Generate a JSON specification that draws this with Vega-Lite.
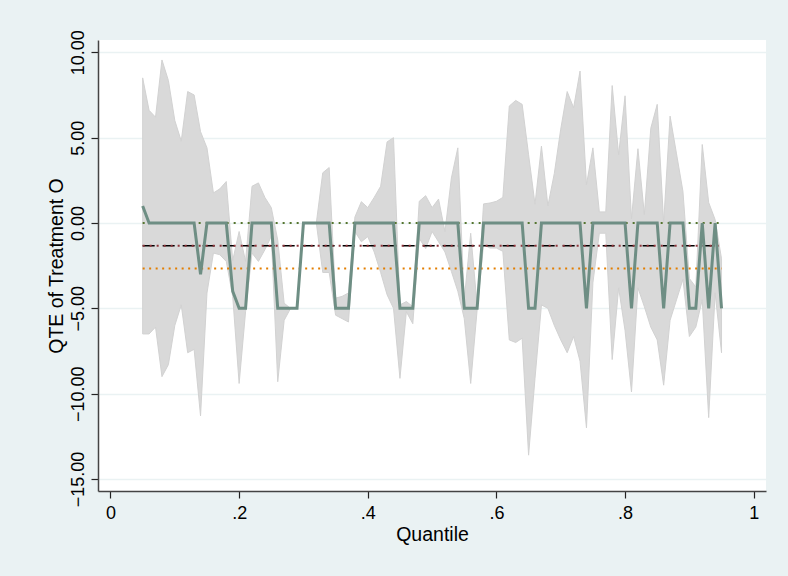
{
  "$schema": "https://vega.github.io/schema/vega-lite/v6.json",
  "autosize": {"type": "none"},
  "padding": {"left": 98, "top": 40, "right": 22, "bottom": 85},
  "width": 668,
  "height": 451,
  "background": "#EAF2F3",
  "config": {
    "view": {"fill": "white", "stroke": null},
    "font": "Liberation Sans",
    "axis": {
      "labelFont": "Liberation Sans",
      "titleFont": "Liberation Sans",
      "labelColor": "black",
      "titleColor": "black",
      "titleFontWeight": "normal",
      "domainColor": "#444444",
      "domainWidth": 1.5,
      "tickColor": "#222222",
      "tickWidth": 1.2,
      "tickSize": 7
    }
  },
  "datasets": {
    "ci": [
      {"q": 0.05, "qte": 1, "ub": 8.5, "lb": -6.5},
      {"q": 0.06, "qte": 0, "ub": 6.6, "lb": -6.5},
      {"q": 0.07, "qte": 0, "ub": 6.2, "lb": -6.1},
      {"q": 0.08, "qte": 0, "ub": 9.55, "lb": -9.0},
      {"q": 0.09, "qte": 0, "ub": 8.35, "lb": -8.3},
      {"q": 0.10, "qte": 0, "ub": 6.0, "lb": -6.0},
      {"q": 0.11, "qte": 0, "ub": 4.8, "lb": -4.8},
      {"q": 0.12, "qte": 0, "ub": 7.7, "lb": -7.6},
      {"q": 0.13, "qte": 0, "ub": 7.5, "lb": -7.4},
      {"q": 0.14, "qte": -3, "ub": 5.35, "lb": -11.3},
      {"q": 0.15, "qte": 0, "ub": 4.4, "lb": -4.1},
      {"q": 0.16, "qte": 0, "ub": 1.76, "lb": -1.76},
      {"q": 0.17, "qte": 0, "ub": 2.0, "lb": -1.86},
      {"q": 0.18, "qte": 0, "ub": 2.43, "lb": -2.25},
      {"q": 0.19, "qte": -4, "ub": -2.2, "lb": -4.3},
      {"q": 0.20, "qte": -5, "ub": -0.5, "lb": -9.4},
      {"q": 0.21, "qte": -5, "ub": -2.25, "lb": -5.2},
      {"q": 0.22, "qte": 0, "ub": 2.15, "lb": -1.76},
      {"q": 0.23, "qte": 0, "ub": 2.35, "lb": -2.25},
      {"q": 0.24, "qte": 0, "ub": 1.5, "lb": -1.57},
      {"q": 0.25, "qte": 0, "ub": 0.9, "lb": -0.78},
      {"q": 0.26, "qte": -5, "ub": -1.0, "lb": -9.3},
      {"q": 0.27, "qte": -5, "ub": -4.7, "lb": -5.7},
      {"q": 0.28, "qte": -5, "ub": -5, "lb": -5},
      {"q": 0.29, "qte": -5, "ub": -5, "lb": -5},
      {"q": 0.30, "qte": 0, "ub": 0, "lb": 0},
      {"q": 0.31, "qte": 0, "ub": 0, "lb": 0},
      {"q": 0.32, "qte": 0, "ub": 0, "lb": 0},
      {"q": 0.33, "qte": 0, "ub": 2.94, "lb": -2.9},
      {"q": 0.34, "qte": 0, "ub": 3.25, "lb": -2.9},
      {"q": 0.35, "qte": -5, "ub": -4.4, "lb": -5.4},
      {"q": 0.36, "qte": -5, "ub": -4.3, "lb": -5.6},
      {"q": 0.37, "qte": -5, "ub": -4.1, "lb": -5.8},
      {"q": 0.38, "qte": 0, "ub": 0.35, "lb": -0.5},
      {"q": 0.39, "qte": 0, "ub": 1.25, "lb": -1.1},
      {"q": 0.40, "qte": 0, "ub": 0.9, "lb": -0.8},
      {"q": 0.41, "qte": 0, "ub": 1.5, "lb": -1.7},
      {"q": 0.42, "qte": 0, "ub": 2.15, "lb": -2.9},
      {"q": 0.43, "qte": 0, "ub": 4.75, "lb": -4.2},
      {"q": 0.44, "qte": 0, "ub": 5.0, "lb": -5.0},
      {"q": 0.45, "qte": -5, "ub": -4.8, "lb": -9.1},
      {"q": 0.46, "qte": -5, "ub": -4.6, "lb": -5.2},
      {"q": 0.47, "qte": -5, "ub": -4.9, "lb": -5.9},
      {"q": 0.48, "qte": 0, "ub": 1.27, "lb": -0.9},
      {"q": 0.49, "qte": 0, "ub": 1.6, "lb": -1.5},
      {"q": 0.50, "qte": 0, "ub": 0.9, "lb": -0.5},
      {"q": 0.51, "qte": 0, "ub": 1.4, "lb": -1.1},
      {"q": 0.52, "qte": 0, "ub": -0.5, "lb": -1.7},
      {"q": 0.53, "qte": 0, "ub": 2.64, "lb": -2.84},
      {"q": 0.54, "qte": 0, "ub": 4.4, "lb": -4.0},
      {"q": 0.55, "qte": -5, "ub": -4.5, "lb": -5.6},
      {"q": 0.56, "qte": -5, "ub": -0.6, "lb": -9.4},
      {"q": 0.57, "qte": -5, "ub": -4.8, "lb": -5.1},
      {"q": 0.58, "qte": 0, "ub": 1.12, "lb": -1.27},
      {"q": 0.59, "qte": 0, "ub": 1.17, "lb": -1.47},
      {"q": 0.60, "qte": 0, "ub": 1.27, "lb": -1.47},
      {"q": 0.61, "qte": 0, "ub": 1.5, "lb": -1.66},
      {"q": 0.62, "qte": 0, "ub": 6.85, "lb": -6.85},
      {"q": 0.63, "qte": 0, "ub": 7.18, "lb": -7.0},
      {"q": 0.64, "qte": 0, "ub": 6.95, "lb": -6.75},
      {"q": 0.65, "qte": -5, "ub": 4.0, "lb": -13.6},
      {"q": 0.66, "qte": -5, "ub": 1.1, "lb": -9.1},
      {"q": 0.67, "qte": 0, "ub": 4.5, "lb": -4.8},
      {"q": 0.68, "qte": 0, "ub": 1.0, "lb": -5.0},
      {"q": 0.69, "qte": 0, "ub": 2.9, "lb": -6.0},
      {"q": 0.70, "qte": 0, "ub": 5.5, "lb": -6.85},
      {"q": 0.71, "qte": 0, "ub": 7.7, "lb": -7.6},
      {"q": 0.72, "qte": 0, "ub": 6.75, "lb": -6.65},
      {"q": 0.73, "qte": 0, "ub": 8.9, "lb": -8.1},
      {"q": 0.74, "qte": -5, "ub": 2.25, "lb": -12.0},
      {"q": 0.75, "qte": 0, "ub": 4.4, "lb": -3.5},
      {"q": 0.76, "qte": 0, "ub": 0.65, "lb": -0.6},
      {"q": 0.77, "qte": 0, "ub": 0.65, "lb": -0.6},
      {"q": 0.78, "qte": 0, "ub": 8.05, "lb": -8.0},
      {"q": 0.79, "qte": 0, "ub": 4.0, "lb": -3.8},
      {"q": 0.80, "qte": 0, "ub": 7.45, "lb": -6.3},
      {"q": 0.81, "qte": -5, "ub": 0.25, "lb": -9.9},
      {"q": 0.82, "qte": 0, "ub": 4.35, "lb": -3.8},
      {"q": 0.83, "qte": 0, "ub": 0.5, "lb": -4.9},
      {"q": 0.84, "qte": 0, "ub": 5.55, "lb": -6.1},
      {"q": 0.85, "qte": 0, "ub": 6.95, "lb": -6.85},
      {"q": 0.86, "qte": -5, "ub": 0.0, "lb": -9.5},
      {"q": 0.87, "qte": 0, "ub": 6.26, "lb": -5.7},
      {"q": 0.88, "qte": 0, "ub": 4.05, "lb": -4.5},
      {"q": 0.89, "qte": 0, "ub": 1.85, "lb": -3.3},
      {"q": 0.90, "qte": -5, "ub": -3.25, "lb": -6.65},
      {"q": 0.91, "qte": -5, "ub": -3.75, "lb": -6.1},
      {"q": 0.92, "qte": 0, "ub": 4.6, "lb": -4.5},
      {"q": 0.93, "qte": -5, "ub": 1.2, "lb": -11.4},
      {"q": 0.94, "qte": 0, "ub": 0.2, "lb": -4.1},
      {"q": 0.95, "qte": -5, "ub": -2.1, "lb": -7.6}
    ],
    "hl": [
      {"q": 0.05, "v": 0, "s": "zero"},
      {"q": 0.95, "v": 0, "s": "zero"},
      {"q": 0.05, "v": -1.33, "s": "mean"},
      {"q": 0.95, "v": -1.33, "s": "mean"},
      {"q": 0.05, "v": -2.66, "s": "half"},
      {"q": 0.95, "v": -2.66, "s": "half"}
    ]
  },
  "layer": [
    {
      "data": {"name": "ci"},
      "mark": {"type": "area", "color": "#d9d9d9", "stroke": "#d2d2d2", "strokeWidth": 1},
      "encoding": {
        "x": {
          "field": "q", "type": "quantitative",
          "scale": {"domain": [-0.01943, 1.01912], "nice": false, "zero": false},
          "axis": {
            "values": [0, 0.2, 0.4, 0.6, 0.8, 1],
            "labelExpr": "datum.value == 0 ? '0' : datum.value == 1 ? '1' : replace(format(datum.value, '.1f'), '0.', '.')",
            "labelFontSize": 18,
            "labelBaseline": "alphabetic",
            "labelPadding": 20,
            "grid": false,
            "title": "Quantile",
            "titleFontSize": 19.5,
            "titleBaseline": "alphabetic",
            "titleY": 49,
            "titleX": 334
          }
        },
        "y": {
          "field": "ub", "type": "quantitative",
          "scale": {"domain": [-15.70, 10.72], "nice": false, "zero": false},
          "axis": {
            "values": [-15, -10, -5, 0, 5, 10],
            "format": ".2f",
            "labelAngle": 270,
            "labelAlign": "center",
            "labelBaseline": "alphabetic",
            "labelPadding": 8,
            "labelFontSize": 18,
            "grid": true,
            "gridColor": "#EAF2F3",
            "gridWidth": 1.5,
            "title": "QTE of Treatment O",
            "titleFontSize": 19.5,
            "titleAngle": 270,
            "titleAlign": "center",
            "titleBaseline": "alphabetic",
            "titleX": -36,
            "titleY": 225.5
          }
        },
        "y2": {"field": "lb"}
      }
    },
    {
      "data": {"name": "hl"},
      "transform": [{"filter": "datum.s == 'zero'"}],
      "mark": {"type": "line", "color": "#55752F", "strokeWidth": 2, "strokeDash": [2, 5]},
      "encoding": {
        "x": {"field": "q", "type": "quantitative"},
        "y": {"field": "v", "type": "quantitative"}
      }
    },
    {
      "data": {"name": "hl"},
      "transform": [{"filter": "datum.s == 'mean'"}],
      "mark": {"type": "line", "color": "#000000", "strokeWidth": 1.5, "strokeDash": [12, 8]},
      "encoding": {
        "x": {"field": "q", "type": "quantitative"},
        "y": {"field": "v", "type": "quantitative"}
      }
    },
    {
      "data": {"name": "hl"},
      "transform": [{"filter": "datum.s == 'mean'"}],
      "mark": {"type": "line", "color": "#90353B", "strokeWidth": 2, "strokeDash": [2, 5]},
      "encoding": {
        "x": {"field": "q", "type": "quantitative"},
        "y": {"field": "v", "type": "quantitative"}
      }
    },
    {
      "data": {"name": "hl"},
      "transform": [{"filter": "datum.s == 'half'"}],
      "mark": {"type": "line", "color": "#E37E00", "strokeWidth": 2, "strokeDash": [2, 4.5]},
      "encoding": {
        "x": {"field": "q", "type": "quantitative"},
        "y": {"field": "v", "type": "quantitative"}
      }
    },
    {
      "data": {"name": "ci"},
      "mark": {"type": "line", "color": "#6E8E84", "strokeWidth": 3},
      "encoding": {
        "x": {"field": "q", "type": "quantitative"},
        "y": {"field": "qte", "type": "quantitative"}
      }
    }
  ]
}
